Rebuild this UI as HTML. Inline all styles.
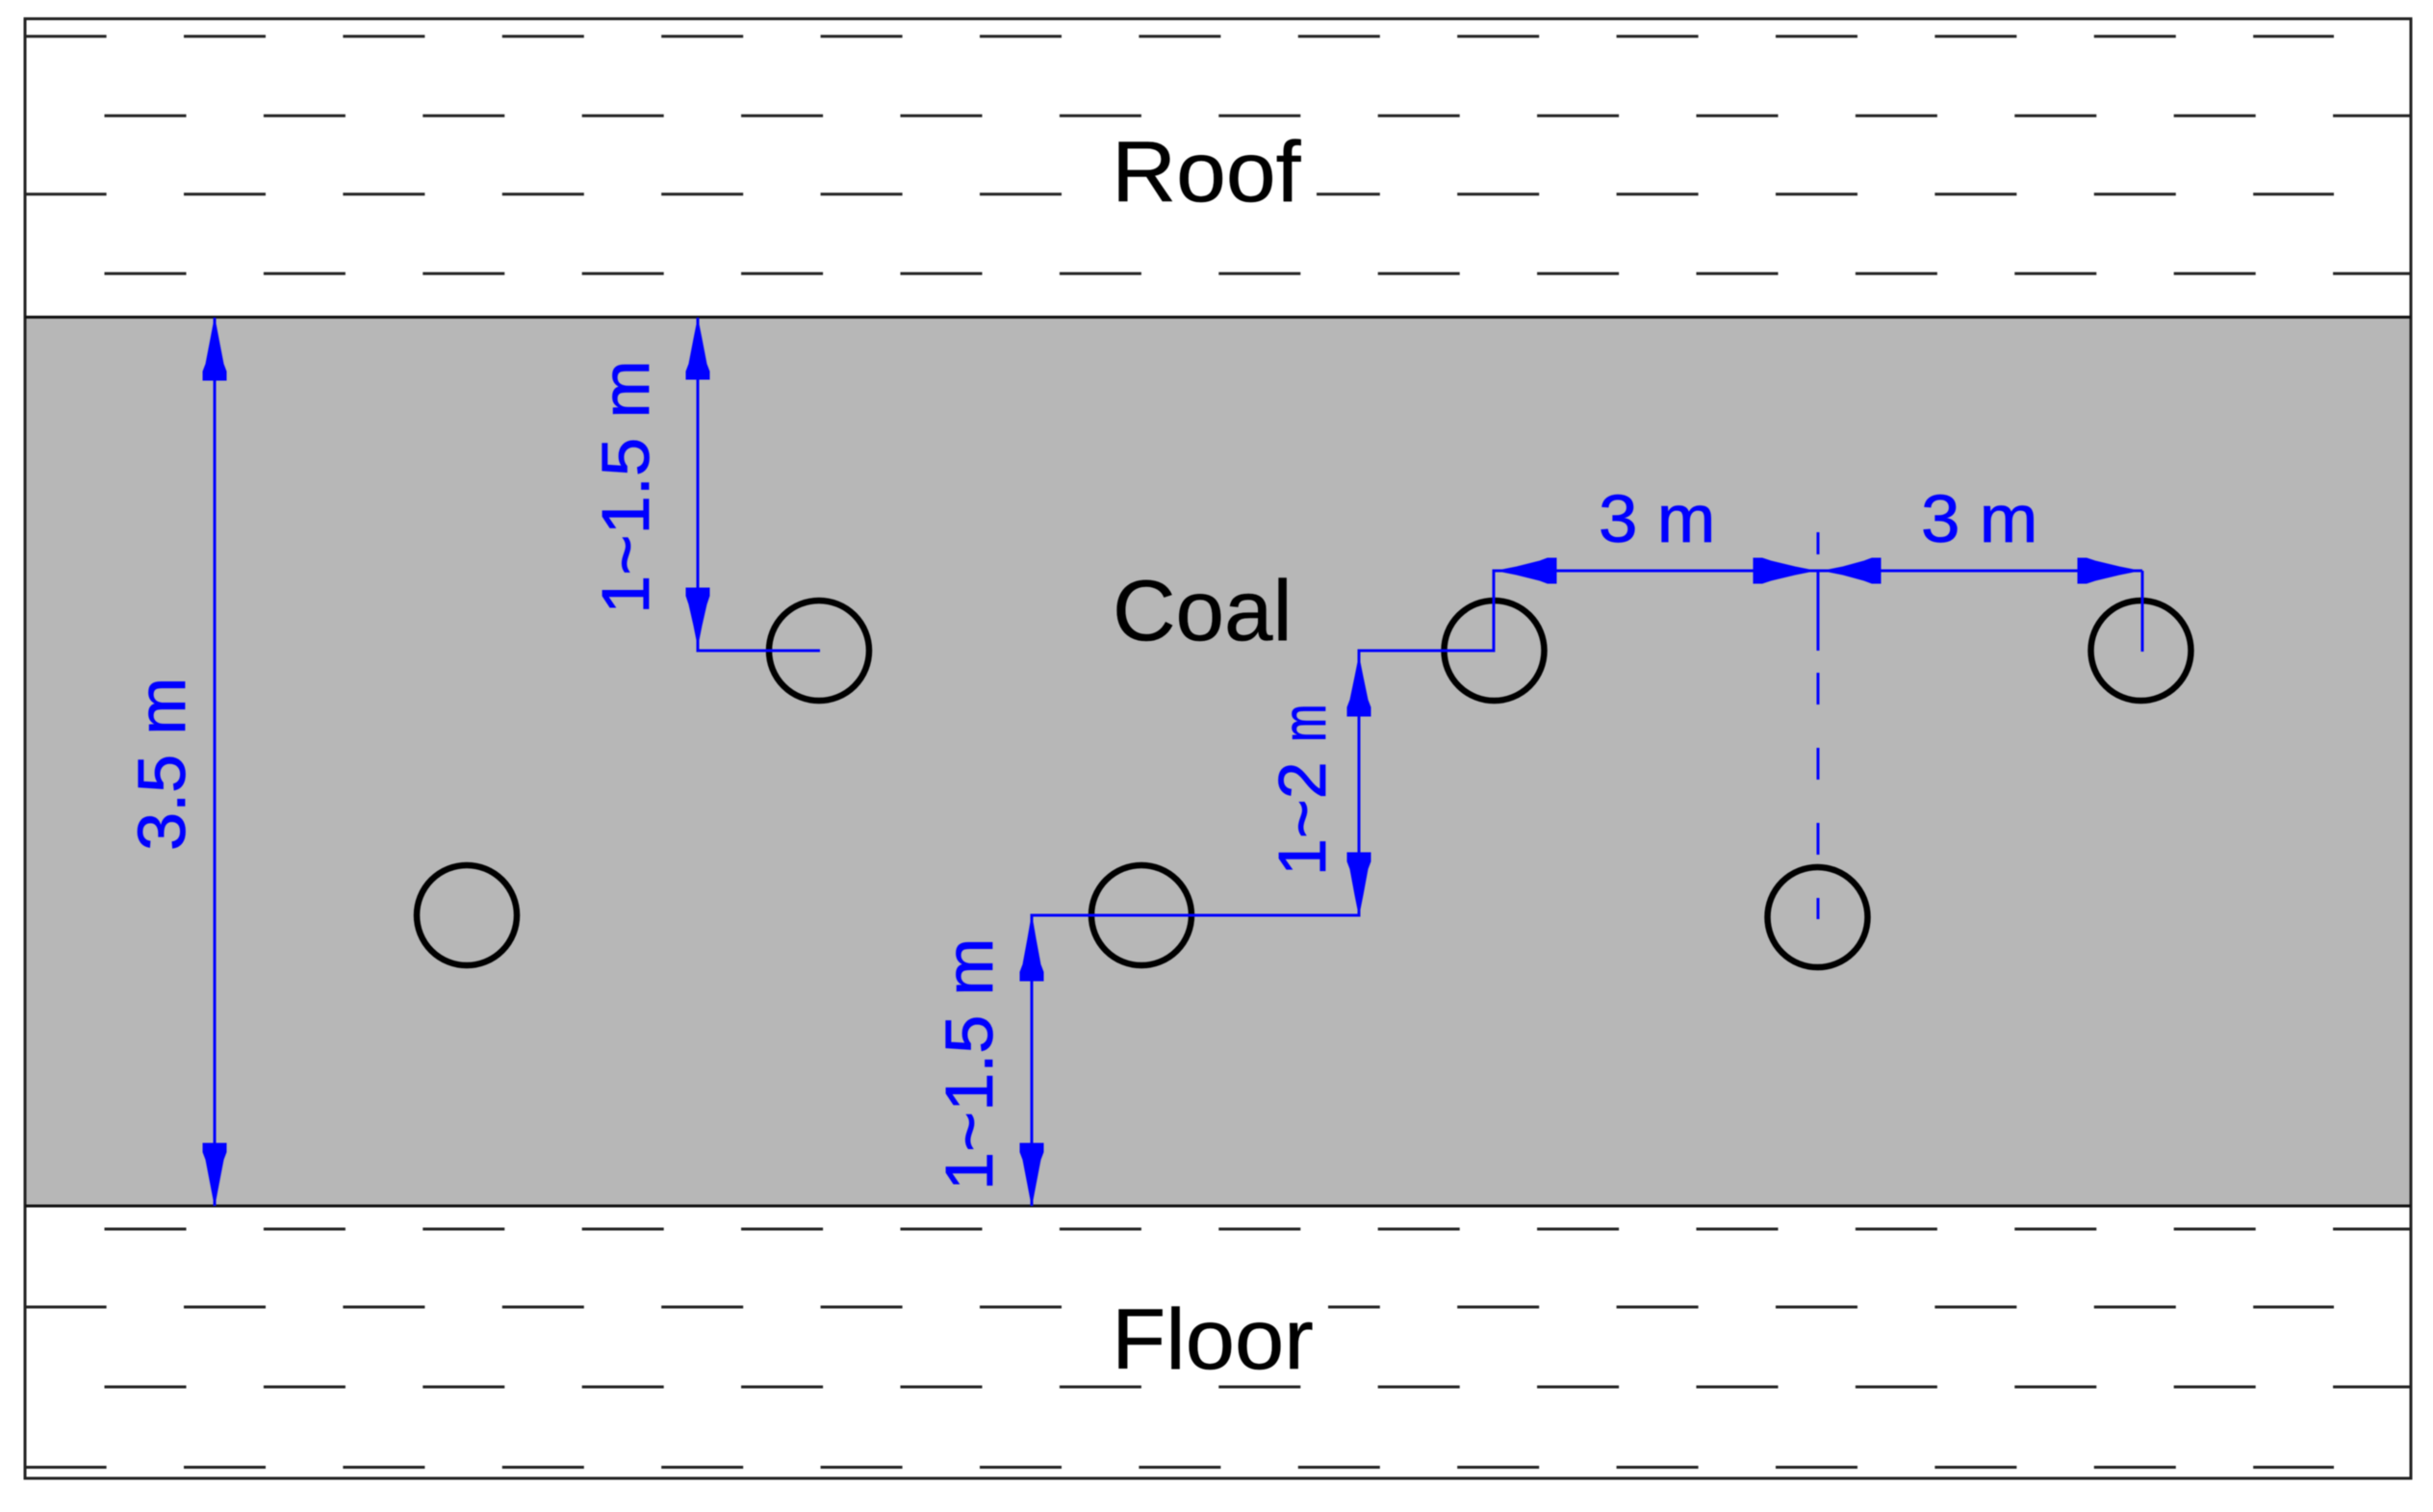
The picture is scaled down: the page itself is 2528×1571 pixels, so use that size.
<!DOCTYPE html>
<html>
<head>
<meta charset="utf-8">
<title>Roof, Coal, Floor borehole layout</title>
<style>
html,body{margin:0;padding:0;width:2528px;height:1571px;background:#fff;overflow:hidden}
svg{display:block;position:absolute;left:0;top:0;filter:blur(0.6px)}
text{font-family:"Liberation Sans",Arial,sans-serif}
.k{font-size:89px;fill:#000;stroke:#000;stroke-width:0.5px}
.b{font-size:70px;fill:#00f;stroke:#00f;stroke-width:0.8px}
.d{stroke:#222;stroke-width:3;fill:none;stroke-dasharray:85 80.4}
.l{stroke:#00f;stroke-width:3;fill:none}
.c{stroke:#000;stroke-width:6.5;fill:none}
.a{fill:#00f;stroke:#00f;stroke-width:1}
</style>
</head>
<body>
<svg width="2528" height="1571" viewBox="0 0 2528 1571" xmlns="http://www.w3.org/2000/svg">
<rect width="2528" height="1571" fill="#fff"/>

<!-- strata dashes -->
<line class="d" x1="25.6" y1="37.7" x2="2425" y2="37.7"/>
<line class="d" x1="108.5" y1="120.3" x2="2505" y2="120.3"/>
<line class="d" x1="25.6" y1="201.7" x2="2425" y2="201.7"/>
<line class="d" x1="108.5" y1="284.3" x2="2505" y2="284.3"/>
<line class="d" x1="108.5" y1="1277" x2="2505" y2="1277"/>
<line class="d" x1="25.6" y1="1358" x2="2425" y2="1358"/>
<line class="d" x1="108.5" y1="1441" x2="2505" y2="1441"/>
<line class="d" x1="25.6" y1="1524.5" x2="2425" y2="1524.5"/>

<!-- text masks -->
<rect x="1105" y="190" width="263" height="24" fill="#fff"/>
<rect x="1105" y="1350" width="275" height="20" fill="#fff"/>

<!-- coal seam -->
<rect x="26" y="329.5" width="2479" height="923.5" fill="#b7b7b7"/>

<!-- outline -->
<rect x="26" y="19.5" width="2479" height="1516.5" fill="none" stroke="#222" stroke-width="3"/>
<line x1="26" y1="329.5" x2="2505" y2="329.5" stroke="#111" stroke-width="3"/>
<line x1="26" y1="1253" x2="2505" y2="1253" stroke="#111" stroke-width="3"/>

<!-- labels -->
<text class="k" transform="translate(1155 209) scale(1.045 1)">Roof</text>
<text class="k" transform="translate(1156 665) scale(1.02 1)">Coal</text>
<text class="k" transform="translate(1155 1422) scale(1.035 1)">Floor</text>

<!-- boreholes -->
<circle class="c" cx="485" cy="951" r="52"/>
<circle class="c" cx="851" cy="676" r="52"/>
<circle class="c" cx="1186" cy="951" r="52"/>
<circle class="c" cx="1552.5" cy="676" r="52"/>
<circle class="c" cx="1888.5" cy="953" r="52"/>
<circle class="c" cx="2224.5" cy="676" r="52"/>

<!-- 3.5 m -->
<line class="l" x1="223" y1="330" x2="223" y2="1253"/>
<polygon class="a" points="223,331 227,352 232,378 235,386 235,395 211,395 211,386 214,378 219,352"/>
<polygon class="a" points="223,1252 227,1231 232,1205 235,1197 235,1188 211,1188 211,1197 214,1205 219,1231"/>
<text class="b" transform="translate(192 884) rotate(-90) scale(1.03 1)">3.5 m</text>

<!-- upper 1~1.5 m -->
<polyline class="l" points="725,330 725,676 852,676"/>
<polygon class="a" points="725,332 729,352 734,378 737,386 737,394 713,394 713,386 716,378 721,352"/>
<polygon class="a" points="725,670 729,650 734,628 737,619 737,611 713,611 713,619 716,628 721,650"/>
<text class="b" transform="translate(674 638) rotate(-90) scale(1.035 1)">1~1.5 m</text>

<!-- lower 1~1.5 m -->
<polyline class="l" points="1072,1253 1072,951 1412,951 1412,676 1552,676 1552,593 1889,593"/>
<polygon class="a" points="1072,952 1076,975 1081,1002 1084,1010 1084,1019 1060,1019 1060,1010 1063,1002 1068,975"/>
<polygon class="a" points="1072,1252 1076,1231 1081,1205 1084,1197 1084,1188 1060,1188 1060,1197 1063,1205 1068,1231"/>
<text class="b" transform="translate(1031 1237) rotate(-90) scale(1.03 1)">1~1.5 m</text>

<!-- 1~2 m -->
<polygon class="a" points="1412,683 1416,703 1421,727 1424,735 1424,744 1400,744 1400,735 1403,727 1408,703"/>
<polygon class="a" points="1412,950 1416,930 1421,903 1424,895 1424,886 1400,886 1400,895 1403,903 1408,930"/>
<text class="b" transform="translate(1377 910) rotate(-90)">1~2</text>
<text class="b" transform="translate(1377 771) rotate(-90) scale(0.68 0.92)">m</text>

<!-- 3 m dimensions -->
<line class="l" x1="1889" y1="593" x2="2226" y2="593"/>
<line class="l" x1="2226" y1="593" x2="2226" y2="677"/>
<polygon class="a" points="1556,593 1576,589 1600,583 1608,580 1617,580 1617,606 1608,606 1600,603 1576,597"/>
<polygon class="a" points="1885,593 1865,589 1840,583 1831,580 1822,580 1822,606 1831,606 1840,603 1865,597"/>
<polygon class="a" points="1895,593 1915,589 1937,583 1945,580 1954,580 1954,606 1945,606 1937,603 1915,597"/>
<polygon class="a" points="2222,593 2202,589 2177,583 2168,580 2159,580 2159,606 2168,606 2177,603 2202,597"/>
<text class="b" transform="translate(1661 563) scale(1.04 1)">3 m</text>
<text class="b" transform="translate(1996 563) scale(1.04 1)">3 m</text>

<!-- dashed centre line -->
<line class="l" x1="1889" y1="553" x2="1889" y2="576"/>
<line class="l" x1="1889" y1="593" x2="1889" y2="676"/>
<line class="l" x1="1889" y1="699" x2="1889" y2="732"/>
<line class="l" x1="1889" y1="777" x2="1889" y2="810"/>
<line class="l" x1="1889" y1="855" x2="1889" y2="888"/>
<line class="l" x1="1889" y1="933" x2="1889" y2="955"/>
</svg>
</body>
</html>
